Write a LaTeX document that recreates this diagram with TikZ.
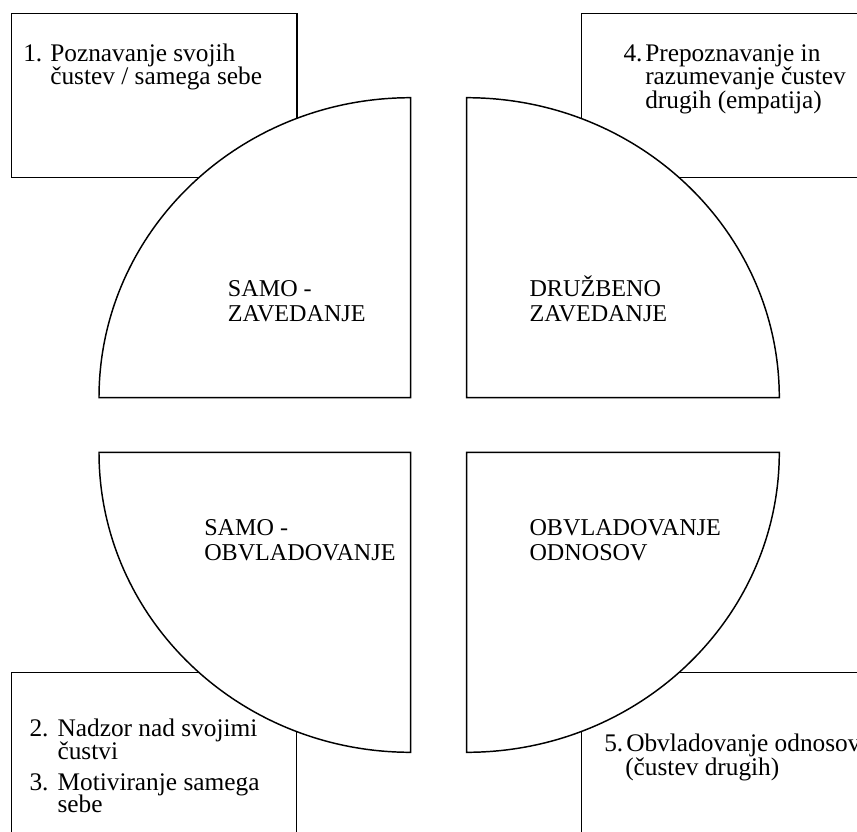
\documentclass[tikz,border=0pt]{standalone}
\usepackage{fontspec}
\setmainfont{Liberation Serif}
\begin{document}
\begin{tikzpicture}[x=0.75pt,y=-0.75pt,
  shape line/.style={draw=black,line width=1.1pt},
  quarter/.style={shape line,fill=white},
  lbl/.style={anchor=base west,inner sep=0pt,font=\fontsize{18.1}{20}\selectfont},
  item/.style={anchor=base west,inner sep=0pt,font=\fontsize{19}{21}\selectfont}]
\clip (0,0) rectangle (857,832);
% boxes
\draw[shape line] (11.7,13.3) rectangle (297,177.7);
\draw[shape line] (581.7,13.3) rectangle (900,177.7);
\draw[shape line] (11.7,672.3) rectangle (296.7,900);
\draw[shape line] (581.7,672.3) rectangle (900,900);
% quarter circles
\draw[quarter] (410.7,397.7) -- (99,397.7) arc[start angle=180,end angle=270,x radius=311.7,y radius=300] -- cycle;
\draw[quarter] (466.7,397.7) -- (466.7,97.7) arc[start angle=270,end angle=360,x radius=312.6,y radius=300] -- cycle;
\draw[quarter] (410.7,452.3) -- (99,452.3) arc[start angle=180,end angle=90,x radius=311.7,y radius=300] -- cycle;
\draw[quarter] (466.7,452.3) -- (779.3,452.3) arc[start angle=0,end angle=90,x radius=312.6,y radius=300] -- cycle;
% quarter labels
\node[lbl] (q1a) at (227.7,296.7) {SAMO -};
\node[lbl] (q1b) at (227.7,321.7) {ZAVEDANJE};
\node[lbl] (q2a) at (529.3,296.7) {DRUŽBENO};
\node[lbl] (q2b) at (529.3,321.7) {ZAVEDANJE};
\node[lbl] (q3a) at (204,535) {SAMO -};
\node[lbl] (q3b) at (204,560) {OBVLADOVANJE};
\node[lbl] (q4a) at (529.3,535) {OBVLADOVANJE};
\node[lbl] (q4b) at (529.3,560) {ODNOSOV};
% box 1
\node[item] (n1) at (23,61) {1.};
\node[item] (t1a) at (50,61) {Poznavanje svojih};
\node[item] (t1b) at (50,84.5) {čustev / samega sebe};
% box 4
\node[item] (n4) at (623.3,61) {4.};
\node[item] (t4a) at (645,61) {Prepoznavanje in};
\node[item] (t4b) at (645,84.5) {razumevanje čustev};
\node[item] (t4c) at (645,108) {drugih (empatija)};
% box 2/3
\node[item] (n2) at (29.3,736.7) {2.};
\node[item] (t2a) at (57.3,736.7) {Nadzor nad svojimi};
\node[item] (t2b) at (57.3,759.3) {čustvi};
\node[item] (n3) at (29.3,790) {3.};
\node[item] (t3a) at (57.3,790) {Motiviranje samega};
\node[item] (t3b) at (57.3,812.7) {sebe};
% box 5
\node[item] (n5) at (604,751.7) {5.};
\node[item] (t5a) at (626,751.7) {Obvladovanje odnosov};
\node[item] (t5b) at (625,775) {(čustev drugih)};
\end{tikzpicture}
\end{document}
